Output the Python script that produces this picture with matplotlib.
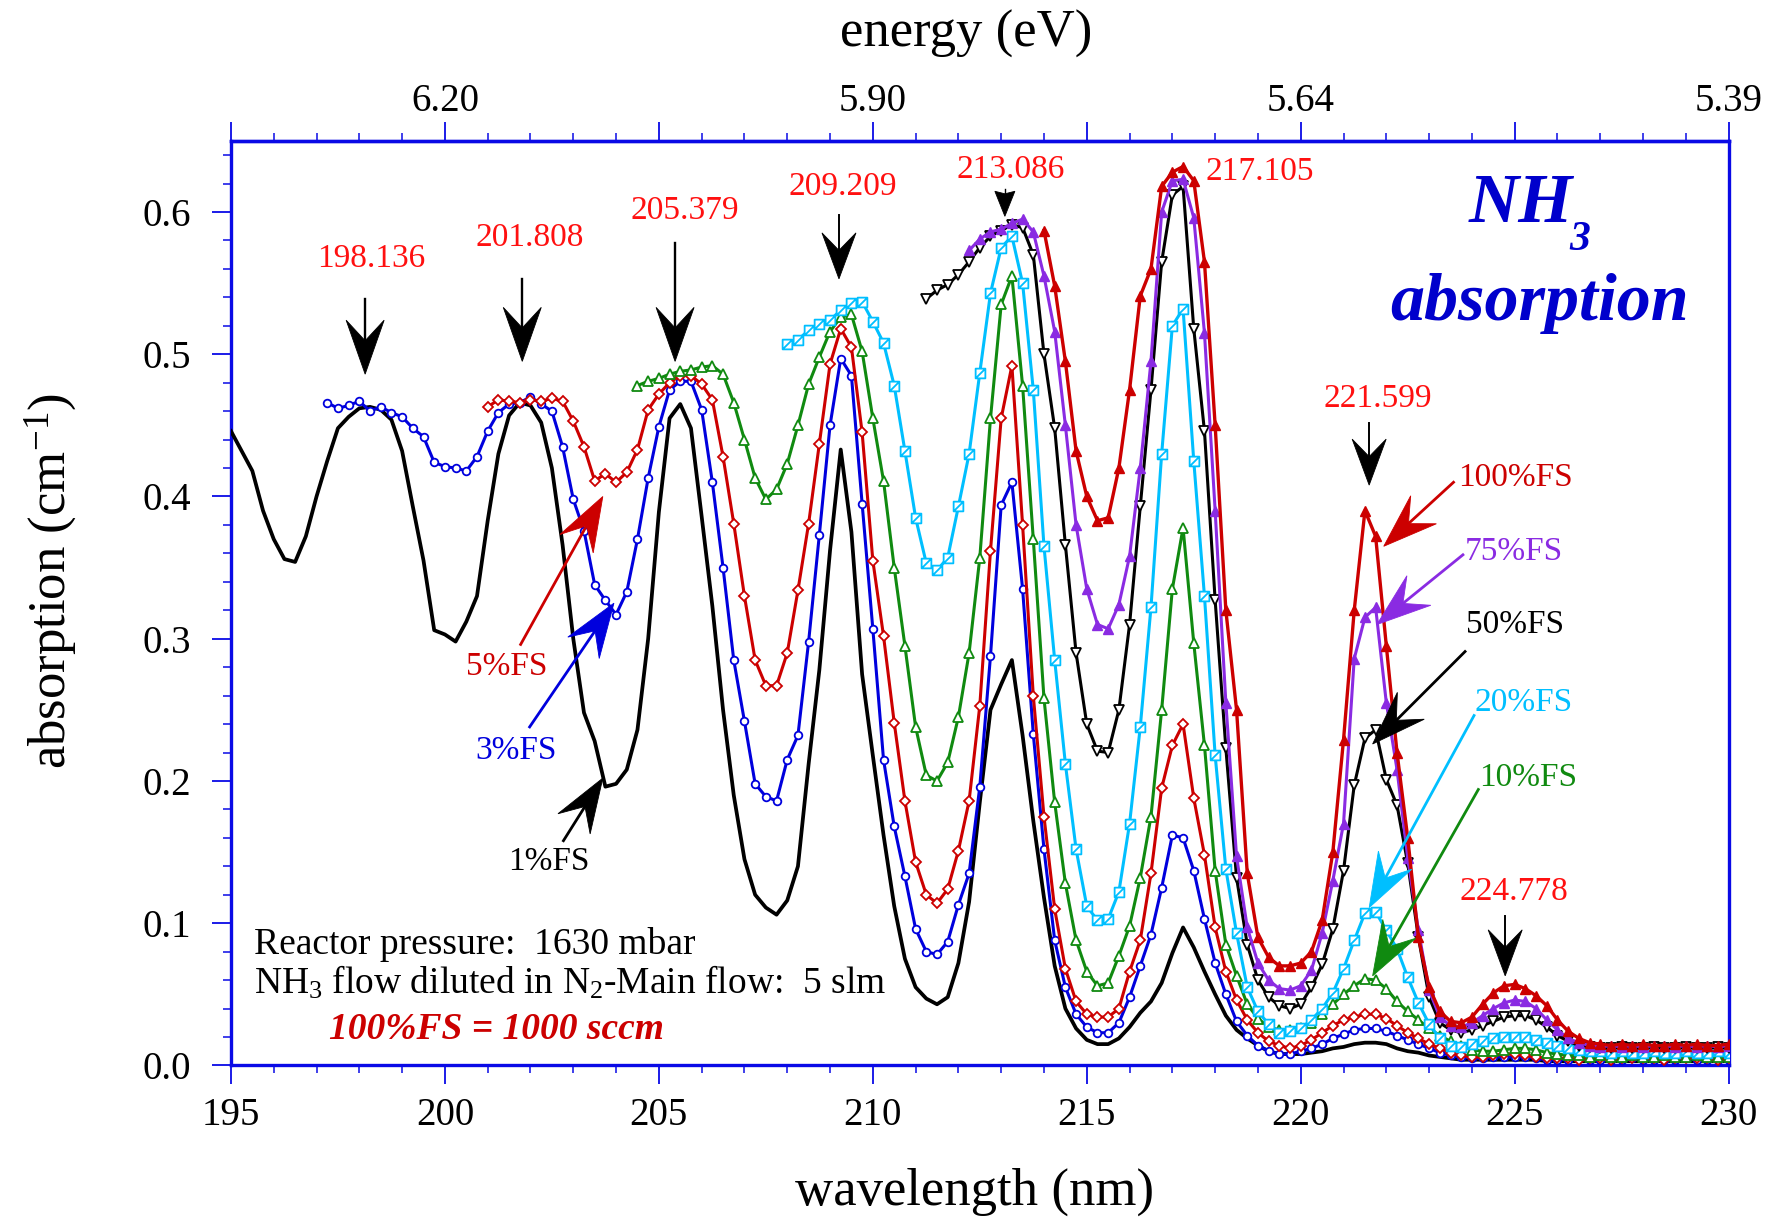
import numpy as np
import matplotlib
matplotlib.use('Agg')
import matplotlib.pyplot as plt
from matplotlib.path import Path
from matplotlib.patches import Polygon
from matplotlib.lines import Line2D
from matplotlib.ticker import MultipleLocator

plt.rcParams['font.family'] = ['Liberation Serif', 'DejaVu Serif']
plt.rcParams['mathtext.fontset'] = 'custom'
plt.rcParams['mathtext.rm'] = 'Liberation Serif'
plt.rcParams['mathtext.it'] = 'Liberation Serif:italic'
plt.rcParams['mathtext.bf'] = 'Liberation Serif:bold:italic'
plt.rcParams['mathtext.default'] = 'regular'

# ---------------- data (absorption in cm^-1, sampled every 0.25 nm) ----------------
STEP = 0.25
start_1fs = 195.0
abs_1fs = [
    0.446, 0.432, 0.418, 0.390,   # 195
    0.370, 0.356, 0.354, 0.372,   # 196
    0.400, 0.425, 0.448, 0.456,   # 197
    0.462, 0.463, 0.461, 0.454,   # 198
    0.432, 0.393, 0.355, 0.306,   # 199
    0.303, 0.298, 0.312, 0.330,   # 200
    0.383, 0.430, 0.457, 0.466,   # 201
    0.464, 0.452, 0.420, 0.366,   # 202
    0.300, 0.248, 0.228, 0.196,   # 203
    0.198, 0.208, 0.236, 0.300,   # 204
    0.389, 0.455, 0.465, 0.448,   # 205
    0.386, 0.323, 0.250, 0.190,   # 206
    0.145, 0.120, 0.111, 0.106,   # 207
    0.116, 0.140, 0.212, 0.278,   # 208
    0.362, 0.433, 0.375, 0.275,   # 209
    0.218, 0.162, 0.112, 0.075,   # 210
    0.055, 0.047, 0.043, 0.048,   # 211
    0.072, 0.115, 0.185, 0.250,   # 212
    0.268, 0.285, 0.232, 0.172,   # 213
    0.118, 0.070, 0.040, 0.026,   # 214
    0.018, 0.015, 0.015, 0.019,   # 215
    0.027, 0.037, 0.045, 0.058,   # 216
    0.079, 0.097, 0.083, 0.066,   # 217
    0.050, 0.035, 0.025, 0.019,   # 218
    0.014, 0.010, 0.008, 0.008,   # 219
    0.008, 0.009, 0.010, 0.012,   # 220
    0.013, 0.015, 0.016, 0.016,   # 221
    0.015, 0.012, 0.010, 0.009,   # 222
    0.007, 0.006, 0.005, 0.004,   # 223
    0.004, 0.004, 0.004, 0.004,   # 224
    0.004, 0.004, 0.004, 0.003,   # 225
    0.003, 0.003, 0.003, 0.003,   # 226
    0.003, 0.003, 0.003, 0.003,   # 227
    0.003, 0.003, 0.003, 0.003,   # 228
    0.003, 0.003, 0.003, 0.003,   # 229
    0.003,                        # 230
]

start_3fs = 197.25
abs_3fs = [
    0.466, 0.462, 0.464,          # 197.25
    0.467, 0.460, 0.463, 0.459,   # 198
    0.456, 0.448, 0.442, 0.424,   # 199
    0.421, 0.420, 0.418, 0.428,   # 200
    0.446, 0.459, 0.465, 0.466,   # 201
    0.470, 0.465, 0.460, 0.435,   # 202
    0.398, 0.376, 0.338, 0.327,   # 203
    0.317, 0.333, 0.370, 0.413,   # 204
    0.449, 0.475, 0.481, 0.481,   # 205
    0.461, 0.410, 0.350, 0.285,   # 206
    0.242, 0.198, 0.189, 0.186,   # 207
    0.215, 0.232, 0.298, 0.373,   # 208
    0.450, 0.497, 0.485, 0.395,   # 209
    0.307, 0.215, 0.168, 0.133,   # 210
    0.096, 0.080, 0.078, 0.087,   # 211
    0.113, 0.135, 0.196, 0.288,   # 212
    0.394, 0.410, 0.335, 0.233,   # 213
    0.152, 0.088, 0.055, 0.036,   # 214
    0.027, 0.023, 0.023, 0.030,   # 215
    0.048, 0.070, 0.092, 0.125,   # 216
    0.162, 0.160, 0.137, 0.103,   # 217
    0.072, 0.050, 0.031, 0.021,   # 218
    0.014, 0.010, 0.008, 0.008,   # 219
    0.010, 0.012, 0.015, 0.019,   # 220
    0.022, 0.025, 0.026, 0.026,   # 221
    0.024, 0.021, 0.018, 0.015,   # 222
    0.012, 0.009, 0.007, 0.006,   # 223
    0.005, 0.005, 0.006, 0.006,   # 224
    0.006, 0.006, 0.005, 0.004,   # 225
    0.004, 0.004, 0.005, 0.004,   # 226
    0.004, 0.004, 0.004, 0.005,   # 227
    0.004, 0.004, 0.004, 0.004,   # 228
    0.005, 0.004, 0.004, 0.004,   # 229
    0.004,                        # 230
]

start_5fs = 201.0
abs_5fs = [
    0.463, 0.468, 0.467, 0.466,   # 201
    0.468, 0.467, 0.469, 0.467,   # 202
    0.453, 0.435, 0.411, 0.416,   # 203
    0.410, 0.417, 0.433, 0.461,   # 204
    0.472, 0.480, 0.485, 0.485,   # 205
    0.479, 0.468, 0.428, 0.381,   # 206
    0.330, 0.285, 0.267, 0.267,   # 207
    0.290, 0.334, 0.381, 0.437,   # 208
    0.493, 0.518, 0.505, 0.445,   # 209
    0.355, 0.302, 0.241, 0.186,   # 210
    0.143, 0.120, 0.114, 0.124,   # 211
    0.151, 0.186, 0.253, 0.362,   # 212
    0.455, 0.492, 0.380, 0.260,   # 213
    0.175, 0.110, 0.068, 0.045,   # 214
    0.036, 0.034, 0.034, 0.040,   # 215
    0.066, 0.088, 0.135, 0.195,   # 216
    0.225, 0.240, 0.188, 0.148,   # 217
    0.097, 0.066, 0.046, 0.032,   # 218
    0.023, 0.017, 0.014, 0.012,   # 219
    0.014, 0.018, 0.023, 0.028,   # 220
    0.032, 0.034, 0.036, 0.036,   # 221
    0.033, 0.028, 0.023, 0.019,   # 222
    0.015, 0.012, 0.009, 0.007,   # 223
    0.006, 0.006, 0.007, 0.008,   # 224
    0.008, 0.007, 0.006, 0.005,   # 225
    0.005, 0.005, 0.004, 0.005,   # 226
    0.005, 0.004, 0.005, 0.005,   # 227
    0.005, 0.005, 0.004, 0.005,   # 228
    0.005, 0.005, 0.005, 0.004,   # 229
    0.005,                        # 230
]

start_10fs = 204.5
abs_10fs = [
    0.478, 0.481,                 # 204.5
    0.483, 0.486, 0.488, 0.489,   # 205
    0.491, 0.492, 0.486, 0.466,   # 206
    0.440, 0.413, 0.398, 0.405,   # 207
    0.423, 0.450, 0.479, 0.498,   # 208
    0.516, 0.526, 0.528, 0.502,   # 209
    0.455, 0.411, 0.350, 0.295,   # 210
    0.238, 0.204, 0.200, 0.213,   # 211
    0.245, 0.290, 0.357, 0.455,   # 212
    0.535, 0.555, 0.478, 0.370,   # 213
    0.258, 0.185, 0.128, 0.088,   # 214
    0.066, 0.056, 0.058, 0.077,   # 215
    0.098, 0.132, 0.175, 0.250,   # 216
    0.335, 0.378, 0.297, 0.225,   # 217
    0.137, 0.085, 0.063, 0.043,   # 218
    0.033, 0.027, 0.025, 0.025,   # 219
    0.026, 0.030, 0.036, 0.043,   # 220
    0.050, 0.056, 0.061, 0.060,   # 221
    0.054, 0.045, 0.038, 0.032,   # 222
    0.026, 0.021, 0.017, 0.014,   # 223
    0.011, 0.010, 0.010, 0.011,   # 224
    0.012, 0.012, 0.011, 0.009,   # 225
    0.008, 0.007, 0.007, 0.006,   # 226
    0.007, 0.006, 0.006, 0.007,   # 227
    0.006, 0.006, 0.007, 0.006,   # 228
    0.006, 0.007, 0.006, 0.006,   # 229
    0.006,                        # 230
]

start_20fs = 208.0
abs_20fs = [
    0.507, 0.510, 0.517, 0.521,   # 208
    0.524, 0.531, 0.536, 0.537,   # 209
    0.523, 0.508, 0.478, 0.432,   # 210
    0.385, 0.353, 0.348, 0.357,   # 211
    0.393, 0.430, 0.487, 0.543,   # 212
    0.575, 0.583, 0.550, 0.475,   # 213
    0.365, 0.285, 0.212, 0.152,   # 214
    0.112, 0.102, 0.103, 0.122,   # 215
    0.170, 0.238, 0.322, 0.430,   # 216
    0.520, 0.532, 0.425, 0.330,   # 217
    0.218, 0.138, 0.093, 0.055,   # 218
    0.038, 0.029, 0.023, 0.024,   # 219
    0.026, 0.032, 0.040, 0.051,   # 220
    0.068, 0.088, 0.107, 0.108,   # 221
    0.095, 0.082, 0.062, 0.044,   # 222
    0.029, 0.019, 0.014, 0.013,   # 223
    0.015, 0.017, 0.019, 0.020,   # 224
    0.020, 0.020, 0.018, 0.016,   # 225
    0.014, 0.012, 0.011, 0.010,   # 226
    0.010, 0.009, 0.010, 0.009,   # 227
    0.009, 0.010, 0.009, 0.009,   # 228
    0.010, 0.009, 0.009, 0.010,   # 229
    0.009,                        # 230
]

start_50fs = 211.25
abs_50fs = [
    0.539, 0.545, 0.549,          # 211.25
    0.556, 0.565, 0.575, 0.583,   # 212
    0.587, 0.591, 0.589, 0.570,   # 213
    0.500, 0.448, 0.366, 0.290,   # 214
    0.240, 0.221, 0.220, 0.250,   # 215
    0.310, 0.393, 0.475, 0.565,   # 216
    0.612, 0.618, 0.518, 0.446,   # 217
    0.327, 0.223, 0.132, 0.085,   # 218
    0.060, 0.048, 0.042, 0.040,   # 219
    0.043, 0.055, 0.071, 0.096,   # 220
    0.137, 0.197, 0.230, 0.236,   # 221
    0.201, 0.183, 0.142, 0.090,   # 222
    0.048, 0.030, 0.025, 0.023,   # 223
    0.025, 0.028, 0.031, 0.034,   # 224
    0.035, 0.035, 0.032, 0.027,   # 225
    0.021, 0.017, 0.014, 0.013,   # 226
    0.012, 0.012, 0.013, 0.012,   # 227
    0.012, 0.013, 0.012, 0.012,   # 228
    0.013, 0.012, 0.012, 0.013,   # 229
    0.012,                        # 230
]

start_75fs = 212.25
abs_75fs = [
    0.573, 0.581, 0.586,          # 212.25
    0.588, 0.592, 0.595, 0.586,   # 213
    0.555, 0.516, 0.450, 0.380,   # 214
    0.335, 0.310, 0.307, 0.324,   # 215
    0.358, 0.420, 0.495, 0.600,   # 216
    0.622, 0.623, 0.596, 0.515,   # 217
    0.390, 0.255, 0.147, 0.097,   # 218
    0.072, 0.060, 0.054, 0.053,   # 219
    0.056, 0.067, 0.093, 0.130,   # 220
    0.170, 0.286, 0.315, 0.322,   # 221
    0.255, 0.208, 0.146, 0.095,   # 222
    0.053, 0.034, 0.028, 0.027,   # 223
    0.030, 0.035, 0.040, 0.044,   # 224
    0.046, 0.045, 0.040, 0.032,   # 225
    0.025, 0.019, 0.016, 0.014,   # 226
    0.013, 0.014, 0.013, 0.014,   # 227
    0.013, 0.014, 0.014, 0.013,   # 228
    0.014, 0.013, 0.014, 0.013,   # 229
    0.014,                        # 230
]

start_100fs = 214.0
abs_100fs = [
    0.587, 0.548, 0.495, 0.432,   # 214
    0.400, 0.383, 0.385, 0.420,   # 215
    0.475, 0.541, 0.560, 0.618,   # 216
    0.628, 0.632, 0.622, 0.565,   # 217
    0.450, 0.320, 0.250, 0.135,   # 218
    0.090, 0.076, 0.070, 0.070,   # 219
    0.072, 0.080, 0.102, 0.150,   # 220
    0.229, 0.320, 0.390, 0.372,   # 221
    0.295, 0.220, 0.160, 0.090,   # 222
    0.055, 0.038, 0.031, 0.030,   # 223
    0.034, 0.043, 0.051, 0.056,   # 224
    0.057, 0.054, 0.049, 0.042,   # 225
    0.032, 0.024, 0.019, 0.016,   # 226
    0.015, 0.014, 0.015, 0.014,   # 227
    0.015, 0.014, 0.014, 0.015,   # 228
    0.014, 0.015, 0.014, 0.014,   # 229
    0.015,                        # 230
]

peak_wavelengths = [198.136, 201.808, 205.379, 209.209, 213.086, 217.105, 221.599, 224.778]
x_ticks = [195, 200, 205, 210, 215, 220, 225, 230]
y_ticks = [0.0, 0.1, 0.2, 0.3, 0.4, 0.5, 0.6]
HC = 1239.84  # eV nm

# ---------------- styling ----------------
AXC = '#0a0ae6'
RED = '#cc0000'
BLUE = '#0000dd'
GREEN = '#108a10'
CYAN = '#00bfff'
PURPLE = '#8a2be2'

hatched_square = Path(
    [(-1, -1), (1, -1), (1, 1), (-1, 1), (-1, -1), (-1, -1), (1, 1)],
    [Path.MOVETO, Path.LINETO, Path.LINETO, Path.LINETO, Path.CLOSEPOLY,
     Path.MOVETO, Path.LINETO])

fig = plt.figure(figsize=(17.67, 12.21), dpi=100)
ax = fig.add_axes([0.1307, 0.1274, 0.8476, 0.7572])


def xs(start, vals):
    return start + STEP * np.arange(len(vals))


ax.plot(xs(start_1fs, abs_1fs), abs_1fs, color='black', lw=2.7, zorder=3)
ax.plot(xs(start_3fs, abs_3fs), abs_3fs, color=BLUE, lw=2.2, marker='o', ms=5.5,
        mfc='white', mec=BLUE, mew=1.3, zorder=4)
ax.plot(xs(start_5fs, abs_5fs), abs_5fs, color=RED, lw=2.2, marker='D', ms=5,
        mfc='white', mec=RED, mew=1.3, zorder=4)
ax.plot(xs(start_10fs, abs_10fs), abs_10fs, color=GREEN, lw=2.2, marker='^', ms=7,
        mfc='white', mec=GREEN, mew=1.3, zorder=4)
ax.plot(xs(start_20fs, abs_20fs), abs_20fs, color=CYAN, lw=2.2, marker=hatched_square, ms=7,
        mfc='white', mec=CYAN, mew=1.3, zorder=4)
ax.plot(xs(start_50fs, abs_50fs), abs_50fs, color='black', lw=2.2, marker='v', ms=7,
        mfc='white', mec='black', mew=1.3, zorder=5)
ax.plot(xs(start_75fs, abs_75fs), abs_75fs, color=PURPLE, lw=2.2, marker='^', ms=7,
        mfc=PURPLE, mec=PURPLE, mew=1.0, zorder=5)
ax.plot(xs(start_100fs, abs_100fs), abs_100fs, color=RED, lw=2.4, marker='^', ms=7,
        mfc=RED, mec=RED, mew=1.0, zorder=6)

ax.set_xlim(195, 230)
ax.set_ylim(0, 0.65)

for sp in ax.spines.values():
    sp.set_color(AXC)
    sp.set_linewidth(2.4)

ax.set_xticks(x_ticks)
ax.set_xticklabels([str(t) for t in x_ticks])
ax.set_yticks(y_ticks)
ax.set_yticklabels(['%.1f' % t for t in y_ticks])
ax.xaxis.set_minor_locator(MultipleLocator(1))
ax.yaxis.set_minor_locator(MultipleLocator(0.02))
ax.tick_params(which='both', direction='out', color=AXC, labelcolor='black',
               labelsize=28, top=False, right=False)
ax.tick_params(which='major', length=14, width=1.3)
ax.tick_params(which='minor', length=6, width=1.1)
ax.tick_params(axis='x', pad=9)
ax.tick_params(axis='y', pad=15)

sec = ax.secondary_xaxis('top')
sec.set_xticks(x_ticks)
sec.set_xticklabels(['%.2f' % (HC / t) if t % 10 == 0 else '' for t in x_ticks])
sec.xaxis.set_minor_locator(MultipleLocator(1))
sec.tick_params(which='both', direction='out', color=AXC, labelcolor='black', labelsize=28)
sec.tick_params(which='major', length=14, width=1.3, pad=1)
sec.tick_params(which='minor', length=6, width=1.1)
sec.spines['top'].set_color(AXC)
sec.spines['top'].set_linewidth(2.4)

fig.text(0.5517, 0.024, 'wavelength (nm)', fontsize=38, ha='center', va='center')
fig.text(0.5466, 0.972, 'energy (eV)', fontsize=38, ha='center', va='center')
fig.text(0.0287, 0.5245, r'absorption (cm$^{-1}$)', fontsize=38, ha='center',
         va='center', rotation=90)

INV = fig.transFigure.inverted()


def arrow(x0, y0, x1, y1, color, L=45, W=16, notch=0.62, lw=1.6):
    """Notched (barbed) arrow from (x0, y0) to head at (x1, y1); sizes in pixels."""
    p = ax.transData.transform([(x0, y0), (x1, y1)])
    p0, p1 = p[0], p[1]
    d = p1 - p0
    u = d / np.hypot(d[0], d[1])
    n = np.array([-u[1], u[0]])
    base = p1 - L * u
    notch_pt = p1 - notch * L * u
    head = INV.transform(np.array([p1, base + W * n, notch_pt, base - W * n]))
    shaft = INV.transform(np.array([p0, notch_pt]))
    fig.add_artist(Line2D(shaft[:, 0], shaft[:, 1], color=color, lw=lw,
                          transform=fig.transFigure, zorder=8))
    fig.add_artist(Polygon(head, closed=True, facecolor=color, edgecolor=color, lw=0.6,
                           transform=fig.transFigure, zorder=8))


# peak labels and arrows
peak_label_pos = [(198.27, 0.567), (201.98, 0.582), (205.61, 0.601), (209.30, 0.618),
                  (213.22, 0.630), (219.05, 0.628), (221.81, 0.469), (224.97, 0.122)]
peak_arrow_y = [(0.539, 0.486), (0.553, 0.495), (0.578, 0.495), (0.598, 0.553),
                (0.616, 0.597), None, (0.452, 0.408), (0.105, 0.063)]
for wl, (tx, ty), ay in zip(peak_wavelengths, peak_label_pos, peak_arrow_y):
    ax.text(tx, ty, '%.3f' % wl, color='#ff1010', fontsize=24, ha='center', va='center', zorder=9)
    if ay is None:
        continue
    if ay[0] - ay[1] < 0.03:
        arrow(wl, ay[0], wl, ay[1], 'black', L=25, W=10, notch=0.9, lw=1.0)
    elif ay[0] - ay[1] < 0.05:
        arrow(wl, ay[0], wl, ay[1], 'black', L=46, W=17, notch=0.62, lw=1.4)
    else:
        arrow(wl, ay[0], wl, ay[1], 'black', L=54, W=19, notch=0.62, lw=1.7)

# concentration labels
conc = [
    ('5%FS', RED, (201.45, 0.280), (201.77, 0.296), (203.69, 0.400)),
    ('3%FS', BLUE, (201.66, 0.221), (201.98, 0.238), (203.95, 0.325)),
    ('1%FS', 'black', (202.43, 0.143), (202.77, 0.158), (203.69, 0.202)),
    ('100%FS', RED, (225.02, 0.413), (223.57, 0.410), (221.94, 0.365)),
    ('75%FS', PURPLE, (224.97, 0.361), (223.79, 0.359), (221.78, 0.310)),
    ('50%FS', 'black', (225.02, 0.310), (223.84, 0.291), (221.68, 0.226)),
    ('20%FS', CYAN, (225.21, 0.255), (224.05, 0.246), (221.60, 0.111)),
    ('10%FS', GREEN, (225.31, 0.202), (224.15, 0.194), (221.68, 0.063)),
]
for txt, col, tp, a0, a1 in conc:
    ax.text(tp[0], tp[1], txt, color=col, fontsize=24, ha='center', va='center', zorder=9)
    arrow(a0[0], a0[1], a1[0], a1[1], col, L=54, W=19, notch=0.62, lw=2.0)

# info text
ax.text(195.53, 0.085, 'Reactor pressure:  1630 mbar', fontsize=27, ha='left', va='center')
ax.text(195.53, 0.058, r'NH$_3$ flow diluted in N$_2$-Main flow:  5 slm', fontsize=27,
        ha='left', va='center')
ax.text(197.29, 0.025, '100%FS = 1000 sccm', fontsize=27, ha='left', va='center',
        color=RED, fontweight='bold', fontstyle='italic')

ax.text(225.15, 0.593, 'NH', fontsize=50, ha='center', va='baseline',
        color='#0000cc', fontweight='bold', fontstyle='italic')
ax.text(226.28, 0.573, '3', fontsize=30, ha='left', va='baseline',
        color='#0000cc', fontweight='bold', fontstyle='italic')
ax.text(225.58, 0.536, 'absorption', fontsize=49, ha='center', va='center',
        color='#0000cc', fontweight='bold', fontstyle='italic')

fig.savefig('out.png', dpi=100)
